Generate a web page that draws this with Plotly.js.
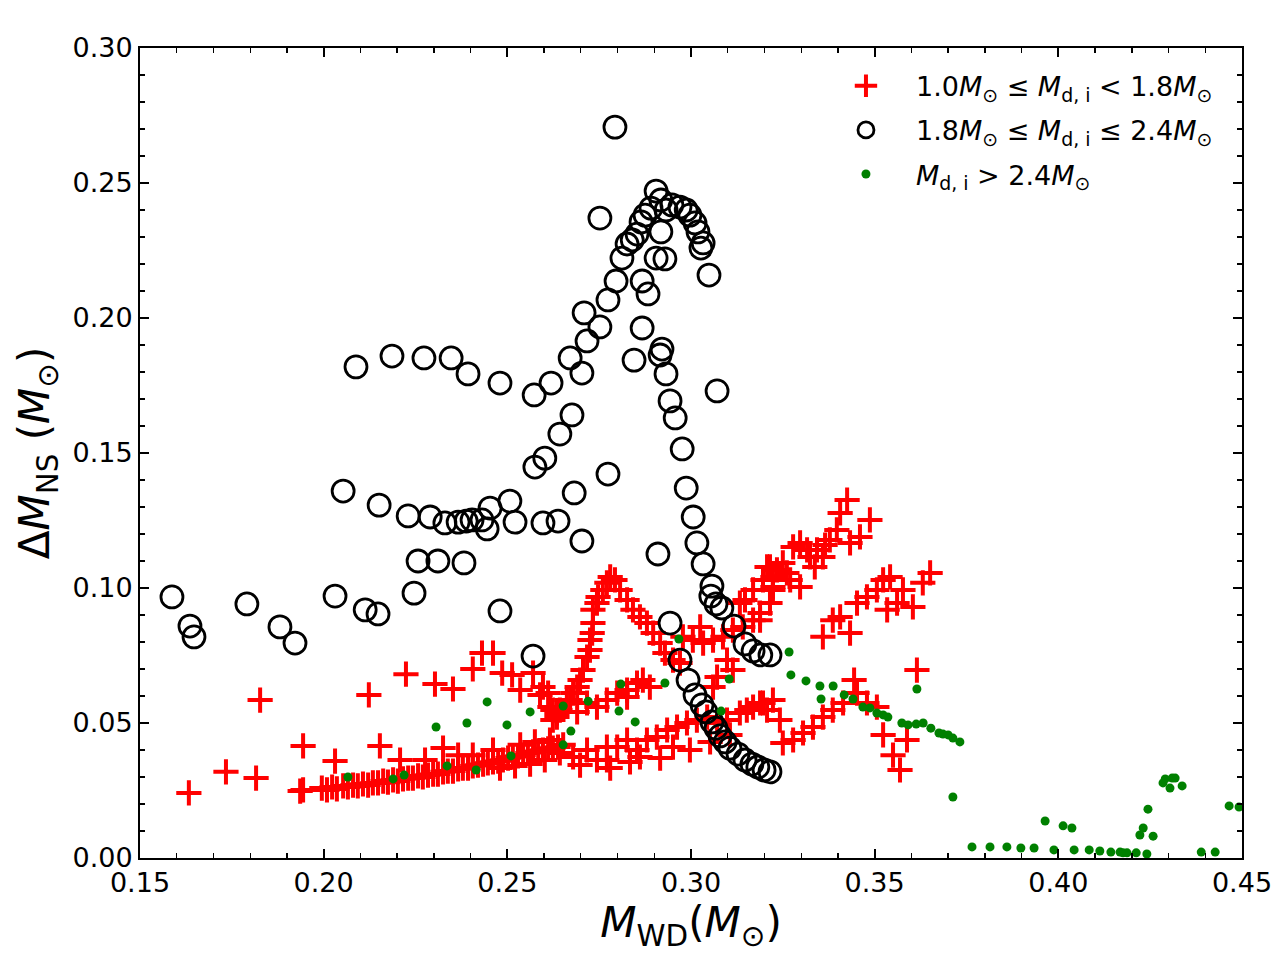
<!DOCTYPE html>
<html>
<head>
<meta charset="utf-8">
<script src="https://cdn.plot.ly/plotly-3.0.1.min.js"></script>
<style>html,body{margin:0;padding:0;background:#fff;}#chart{width:1280px;height:960px;}</style>
</head>
<body>
<div id="chart"></div>
<script>
// Series 1: 1.0 Msun <= Md,i < 1.8 Msun (red crosses)
const redX = [
0.1633,0.1734,0.1816,0.1827,0.1936,0.1944,0.2031,0.2123,0.2153,0.2224,0.2303,0.2352,0.2325,0.2366,0.2406,0.2208,0.2276,0.2431,0.2461,0.2486,0.2513,0.2535,0.2570,0.2589,0.2611,0.2624,0.2635,0.1944,0.2406,0.2461,
0.1995,0.2009,0.2023,0.2036,0.2053,0.2066,0.2080,0.2093,0.2107,0.2121,0.2134,0.2148,0.2162,0.2175,0.2189,0.2202,0.2216,0.2230,0.2243,0.2257,0.2270,0.2284,0.2298,0.2311,0.2325,0.2338,0.2352,0.2366,0.2379,0.2393,0.2406,0.2420,0.2434,0.2447,0.2461,0.2475,0.2488,0.2502,0.2515,0.2529,0.2543,0.2556,0.2570,0.2584,0.2597,0.2611,0.2624,0.2638,0.2652,
0.2480,0.2521,0.2562,0.2602,0.2535,0.2575,0.2616,
0.2624,0.2643,0.2671,0.2679,0.2690,0.2698,0.2706,0.2717,0.2725,0.2725,0.2731,0.2733,0.2733,0.2744,0.2747,0.2760,0.2771,0.2780,0.2793,0.2807,0.2826,0.2842,0.2861,0.2880,0.2897,0.2916,0.2929,0.2951,0.2970,
0.2597,0.2616,0.2635,0.2662,0.2717,0.2744,0.2771,0.2799,0.2826,0.2853,0.2869,0.2888,0.2826,0.2690,
0.2643,0.2679,0.2717,0.2744,0.2771,0.2799,0.2826,0.2853,0.2880,0.2907,0.2935,0.2962,0.2989,0.3016,0.3044,0.3071,0.3133,0.3169,0.3196,0.3223,0.2771,0.2861,0.2951,0.2698,0.2780,0.2834,0.2916,0.2997,0.3052,0.3106,0.3152,0.3188,0.3207,0.3242,0.3098,
0.2978,0.3005,0.3033,0.3060,0.3087,0.3114,0.3141,0.3169,0.3188,0.3215,0.3223,0.3196,0.3215,0.3098,0.3071,0.3060,0.3114,0.3147,0.3133,0.3025,
0.3169,0.3207,0.3223,0.3234,0.3250,0.3261,0.3278,0.3297,0.3316,0.3324,0.3343,0.3359,0.3378,0.3397,0.3406,0.3425,0.3433,0.3460,0.3487,0.3297,0.3270,0.3223,0.3188,0.3337,0.3365,
0.3359,0.3386,0.3406,0.3433,0.3452,0.3479,0.3506,0.3523,0.3542,0.3534,0.3561,0.3577,0.3604,0.3631,0.3651,
0.3250,0.3278,0.3305,0.3332,0.3359,0.3386,0.3414,0.3444,0.3452,0.3479,0.3506,0.3523,0.3588,0.3550,0.3569,0.3615
];
const redY = [
0.0241,0.0319,0.0296,0.0585,0.0248,0.0415,0.0359,0.0604,0.0415,0.0681,0.0644,0.0626,0.0407,0.0381,0.0700,0.0363,0.0363,0.0759,0.0759,0.0685,0.0678,0.0622,0.0685,0.0604,0.0611,0.0548,0.0522,0.0252,0.0381,0.0400,
0.0259,0.0252,0.0263,0.0256,0.0267,0.0263,0.0270,0.0267,0.0274,0.0270,0.0278,0.0278,0.0285,0.0281,0.0289,0.0285,0.0293,0.0296,0.0296,0.0304,0.0300,0.0307,0.0311,0.0311,0.0319,0.0322,0.0322,0.0330,0.0333,0.0333,0.0341,0.0344,0.0348,0.0352,0.0356,0.0359,0.0363,0.0370,0.0374,0.0378,0.0381,0.0389,0.0393,0.0396,0.0400,0.0404,0.0407,0.0411,0.0419,
0.0333,0.0341,0.0348,0.0363,0.0419,0.0430,0.0437,
0.0511,0.0548,0.0585,0.0611,0.0633,0.0659,0.0696,0.0744,0.0770,0.0807,0.0833,0.0870,0.0919,0.0944,0.0967,0.0993,0.1019,0.1041,0.1030,0.0993,0.0956,0.0919,0.0893,0.0870,0.0833,0.0796,0.0759,0.0733,0.0722,
0.0633,0.0559,0.0537,0.0585,0.0574,0.0559,0.0585,0.0611,0.0622,0.0648,0.0659,0.0633,0.0596,0.0541,
0.0389,0.0374,0.0400,0.0363,0.0411,0.0411,0.0437,0.0400,0.0437,0.0448,0.0474,0.0485,0.0500,0.0511,0.0522,0.0500,0.0537,0.0559,0.0574,0.0585,0.0363,0.0374,0.0411,0.0344,0.0333,0.0356,0.0370,0.0400,0.0430,0.0456,0.0548,0.0574,0.0548,0.0511,0.0511,
0.0819,0.0807,0.0796,0.0807,0.0819,0.0844,0.0856,0.0881,0.0907,0.0944,0.1004,0.1030,0.1078,0.0733,0.0670,0.0633,0.0696,0.0956,0.0944,0.0856,
0.0993,0.1078,0.1041,0.1067,0.1093,0.1056,0.1152,0.1167,0.1141,0.1115,0.1141,0.1115,0.1178,0.1215,0.1278,0.1326,0.1167,0.1189,0.1252,0.1004,0.1030,0.0993,0.0881,0.1078,0.1159,
0.0819,0.0881,0.0893,0.0833,0.0944,0.0967,0.0993,0.1030,0.1041,0.0919,0.0944,0.0993,0.0930,0.1019,0.1056,
0.0426,0.0437,0.0463,0.0485,0.0522,0.0548,0.0574,0.0659,0.0611,0.0574,0.0559,0.0456,0.0437,0.0381,0.0326,0.0696
];

// Series 2: 1.8 Msun <= Md,i <= 2.4 Msun (black open circles)
const blackX = [
0.1587,0.1636,0.1647,0.1791,0.1881,0.1922,0.2031,0.2113,0.2148,0.2246,0.2053,0.2151,0.2230,0.2290,0.2330,0.2366,0.2388,0.2404,0.2431,0.2445,0.2453,0.2257,0.2311,0.2382,0.2480,0.2507,0.2521,0.2570,0.2597,0.2638,0.2682,0.2703,
0.2088,0.2186,0.2273,0.2347,0.2393,0.2480,0.2573,0.2619,0.2671,0.2703,0.2717,0.2709,0.2752,0.2774,0.2796,0.2676,0.2643,0.2602,0.2575,0.2774,0.2752,0.2793,
0.2812,0.2826,0.2840,0.2853,0.2864,0.2875,0.2891,0.2905,0.2918,0.2932,0.2918,0.2905,0.2929,0.2948,0.2970,0.2987,0.2997,0.3011,0.3019,0.3027,0.3033,0.3049,0.2867,0.2883,0.2867,0.2845,0.2921,0.2916,0.2932,0.2943,0.2957,0.2976,0.2987,0.3006,0.3016,0.3033,0.2910,0.3071,
0.3057,0.3054,0.3068,0.3084,0.3117,0.3147,0.3169,0.3190,0.3215,
0.2943,0.2970,0.2992,0.3011,0.3030,0.3041,0.3057,0.3068,0.3079,0.3093,0.3106,0.3128,0.3147,0.3166,0.3182,0.3199,0.3215
];
const blackY = [
0.0967,0.0859,0.0819,0.0941,0.0856,0.0796,0.0970,0.0919,0.0904,0.0981,0.1359,0.1307,0.1267,0.1263,0.1241,0.1244,0.1248,0.1252,0.1252,0.1219,0.1296,0.1100,0.1100,0.1093,0.0915,0.1322,0.1244,0.0748,0.1241,0.1248,0.1352,0.1174,
0.1819,0.1859,0.1852,0.1852,0.1793,0.1759,0.1715,0.1759,0.1852,0.1796,0.1915,0.2019,0.1967,0.2067,0.2137,0.1641,0.1570,0.1481,0.1448,0.1422,0.2370,0.2707,
0.2222,0.2274,0.2289,0.2311,0.2356,0.2381,0.2407,0.2470,0.2437,0.2400,0.2319,0.2222,0.2219,0.2419,0.2411,0.2400,0.2381,0.2352,0.2319,0.2259,0.2278,0.2159,0.2137,0.2089,0.1963,0.1844,0.1885,0.1863,0.1793,0.1693,0.1630,0.1515,0.1370,0.1263,0.1167,0.1089,0.1126,0.1730,
0.1007,0.0970,0.0941,0.0926,0.0859,0.0793,0.0767,0.0752,0.0752,
0.0870,0.0733,0.0659,0.0604,0.0567,0.0541,0.0504,0.0481,0.0452,0.0430,0.0407,0.0385,0.0363,0.0348,0.0337,0.0326,0.0319
];

// Series 3: Md,i > 2.4 Msun (green dots)
const greenX = [
0.2066,0.2189,0.2219,0.2306,0.2336,0.2390,0.2415,0.2445,0.2499,0.2510,0.2562,0.2652,0.2652,0.2673,0.2720,0.2804,0.2809,0.2848,0.2929,0.2967,0.3082,0.3104,
0.3267,0.3272,0.3313,0.3351,0.3387,0.3354,0.3417,0.3441,0.3468,0.3487,0.3506,0.3523,0.3536,0.3574,0.3591,0.3613,0.3632,0.3653,0.3675,0.3686,0.3700,0.3713,0.3732,0.3615,0.3713,
0.3765,0.3814,0.3860,0.3898,0.3934,0.3964,0.3988,0.4013,0.4037,0.4043,0.4084,0.4113,0.4143,0.4168,0.4176,0.4187,0.4212,0.4222,0.4231,0.4241,0.4244,0.4258,0.4285,0.4291,0.4304,0.4310,0.4318,0.4337,0.4389,0.4427,0.4465,0.4492
];
const greenY = [
0.0300,0.0293,0.0307,0.0485,0.0341,0.0500,0.0326,0.0578,0.0493,0.0378,0.0541,0.0563,0.0419,0.0470,0.0581,0.0544,0.0644,0.0504,0.0648,0.0811,0.0544,0.0663,
0.0763,0.0678,0.0656,0.0637,0.0637,0.0589,0.0604,0.0589,0.0559,0.0556,0.0537,0.0530,0.0522,0.0500,0.0493,0.0496,0.0500,0.0481,0.0463,0.0459,0.0456,0.0444,0.0430,0.0626,0.0226,
0.0041,0.0041,0.0041,0.0037,0.0037,0.0137,0.0030,0.0119,0.0111,0.0030,0.0030,0.0026,0.0022,0.0022,0.0019,0.0019,0.0019,0.0085,0.0111,0.0015,0.0181,0.0081,0.0278,0.0293,0.0259,0.0296,0.0296,0.0267,0.0022,0.0022,0.0193,0.0189
];

const legendNames = [
  '1.0<i>M</i><sub>⊙</sub> ≤ <i>M</i><sub>d, i</sub> < 1.8<i>M</i><sub>⊙</sub>',
  '1.8<i>M</i><sub>⊙</sub> ≤ <i>M</i><sub>d, i</sub> ≤ 2.4<i>M</i><sub>⊙</sub>',
  '<i>M</i><sub>d, i</sub> > 2.4<i>M</i><sub>⊙</sub>'
];
const xTickVals = [0.15,0.20,0.25,0.30,0.35,0.40,0.45];
const yTickVals = [0.00,0.05,0.10,0.15,0.20,0.25,0.30];

const traces = [
  {x: redX, y: redY, type:'scatter', mode:'markers', name: legendNames[0], legendgroup:'a',
   marker:{symbol:'cross-thin-open', size:18, color:'#ff0000', line:{color:'#ff0000', width:4}}},
  {x: blackX, y: blackY, type:'scatter', mode:'markers', name: legendNames[1], legendgroup:'b',
   marker:{symbol:'circle-open', size:22, color:'#000000', line:{color:'#000000', width:2.8}}},
  {x: greenX, y: greenY, type:'scatter', mode:'markers', name: legendNames[2], legendgroup:'c',
   marker:{symbol:'circle', size:9, color:'#008000'}}
];

const axisCommon = {
  showgrid:false, zeroline:false, showline:true, linecolor:'#000', linewidth:2,
  mirror:'allticks', ticks:'inside', ticklen:9, tickwidth:1.8, tickcolor:'#000',
  tickfont:{family:'DejaVu Sans', size:27, color:'#000'},
  minor:{ticks:'inside', ticklen:5, tickwidth:1.4, tickcolor:'#000', showgrid:false}
};

const layout = {
  width:1280, height:960,
  paper_bgcolor:'#fff', plot_bgcolor:'#fff',
  margin:{l:140, r:38, t:48, b:102},
  font:{family:'DejaVu Sans', color:'#000'},
  xaxis: Object.assign({}, axisCommon, {
    range:[0.15,0.45], tickvals:xTickVals, tickformat:'.2f',
    minor:Object.assign({}, axisCommon.minor, {dtick:0.01, tick0:0.15}),
    title:{text:'<i>M</i><sub>WD</sub>(<i>M</i><sub>⊙</sub>)', font:{family:'DejaVu Sans', size:42}, standoff:10}
  }),
  yaxis: Object.assign({}, axisCommon, {
    range:[0,0.30], tickvals:yTickVals, tickformat:'.2f',
    minor:Object.assign({}, axisCommon.minor, {dtick:0.01, tick0:0}),
    title:{text:'Δ<i>M</i><sub>NS</sub> (<i>M</i><sub>⊙</sub>)', font:{family:'DejaVu Sans', size:42}, standoff:10}
  }),
  showlegend:true,
  legend:{x:0.6134, xanchor:'left', y:0.983, yanchor:'top', bgcolor:'rgba(255,255,255,0)',
          borderwidth:0, font:{family:'DejaVu Sans', size:27, color:'#000'}, tracegroupgap:6,
          itemsizing:'trace', itemwidth:90}
};

Plotly.newPlot('chart', traces, layout, {displayModeBar:false, staticPlot:true});
</script>
</body>
</html>
